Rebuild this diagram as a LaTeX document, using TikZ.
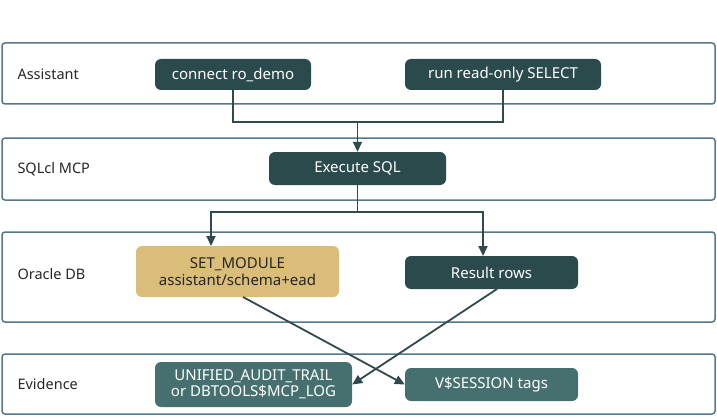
\documentclass[tikz,border=0pt]{standalone}
\usepackage{fontspec}
\setmainfont{Noto Sans}
\usetikzlibrary{arrows.meta}
\definecolor{lane}{HTML}{55788A}
\definecolor{dark}{HTML}{2B4A4B}
\definecolor{mid}{HTML}{46706F}
\definecolor{gold}{HTML}{D9BD78}
\definecolor{conn}{HTML}{2F4A4C}
\begin{document}
\begin{tikzpicture}[x=1pt,y=-1pt,
 lanebox/.style={draw=lane,line width=1.5pt,rounded corners=3pt},
 lanelbl/.style={anchor=west,font=\fontsize{14.5}{17}\selectfont,text=black!85},
 box/.style={rounded corners=6pt,inner sep=0pt,align=center,font=\fontsize{15}{16.5}\selectfont},
 dk/.style={box,fill=dark,text=white},
 md/.style={box,fill=mid,text=white},
 gd/.style={box,fill=gold,text=black!85},
 arr/.style={draw=conn,line width=1.8pt,-{Triangle[length=10pt,width=9pt]}},
 ln/.style={draw=conn,line width=1.8pt}]
\useasboundingbox (0,0) rectangle (717,417);
\draw[lanebox] (2,43) rectangle (715,104);
\draw[lanebox] (2,138) rectangle (715,200);
\draw[lanebox] (2,232) rectangle (715,322);
\draw[lanebox] (2,354) rectangle (715,414);
\node[lanelbl] (l1) at (14,74) {Assistant};
\node[lanelbl] (l2) at (14,169) {SQLcl MCP};
\node[lanelbl] (l3) at (14,274) {Oracle DB};
\node[lanelbl] (l4) at (14,384) {Evidence};
\node[dk,minimum width=156pt,minimum height=31pt] (c) at (233,74.5) {connect ro\_demo};
\node[dk,minimum width=196pt,minimum height=31pt] (r) at (503,74.5) {run read-only SELECT};
\node[dk,minimum width=177pt,minimum height=33pt] (e) at (357.5,168.5) {Execute SQL};
\node[gd,minimum width=203pt,minimum height=51pt] (s) at (237.5,271.5) {SET\_MODULE\\assistant/schema+ead};
\node[dk,minimum width=173pt,minimum height=33pt] (res) at (491.5,272.5) {Result rows};
\node[md,minimum width=197pt,minimum height=45pt] (u) at (253.5,384.5) {UNIFIED\_AUDIT\_TRAIL\\or DBTOOLS\$MCP\_LOG};
\node[md,minimum width=173pt,minimum height=33pt] (v) at (491.5,384.5) {V\$SESSION tags};
\coordinate (j1) at (357.5,122);
\draw[ln] (c.south) -- (233,122) -- (j1);
\draw[ln] (r.south) -- (503,122) -- (j1);
\draw[arr] (j1) -- (e.north);
\coordinate (j2) at (357.5,212);
\draw[ln] (e.south) -- (j2);
\draw[arr] (j2) -- (211,212) -- (211,246);
\draw[arr] (j2) -- (483,212) -- (483,256);
\draw[arr] (243,297) -- (v.west);
\draw[arr] (497,289) -- (u.east);
\end{tikzpicture}
\end{document}
